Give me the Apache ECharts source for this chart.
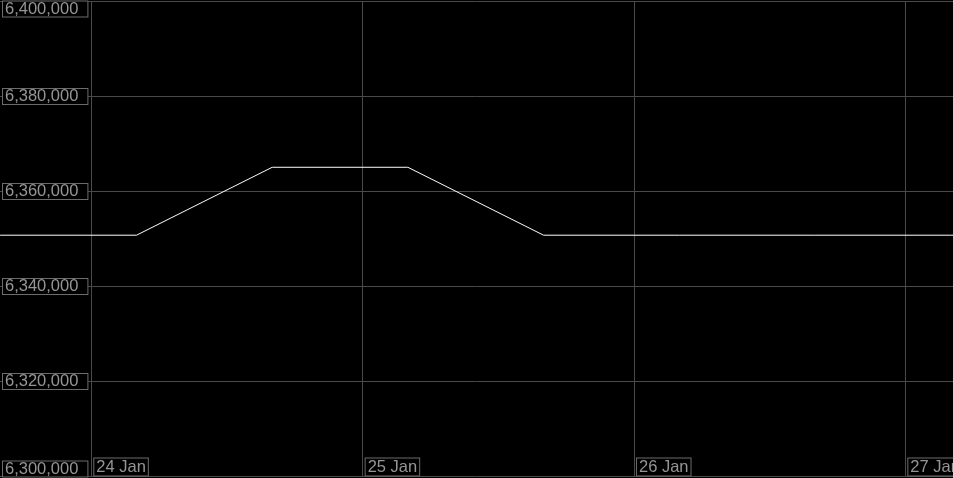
<!DOCTYPE html>
<html><head><meta charset="utf-8">
<script src="https://cdn.jsdelivr.net/npm/echarts@6/dist/echarts.min.js"></script>
<style>html,body{margin:0;padding:0;background:#000}#c{width:953px;height:478px}</style>
</head><body><div id="c"></div>
<script>
// Data (12-hour samples)
var times = [
  [2024,0,23,4],[2024,0,23,16],[2024,0,24,4],[2024,0,24,16],[2024,0,25,4],
  [2024,0,25,16],[2024,0,26,4],[2024,0,26,16],[2024,0,27,4],[2024,0,27,16]
];
var values = [6350800, 6350800, 6350800, 6365100, 6365100, 6350800, 6350800, 6350800, 6350800, 6350800];
var yTicks = [6300000, 6320000, 6340000, 6360000, 6380000, 6400000];
var monthNames = ['Jan','Feb','Mar','Apr','May','Jun','Jul','Aug','Sep','Oct','Nov','Dec'];

function t(a){ return new Date(a[0],a[1],a[2],a[3]).getTime(); }
var data = times.map(function(a,i){ return [t(a), values[i]]; });
var xMin = t([2024,0,24,0]) - 484.5*60000;
var xMax = t([2024,0,27,4]) + 13*60000;

var boxStyle = {color: '#959595', fontFamily: 'Liberation Sans, Arial', fontSize: 16.5, lineHeight: 15,
  backgroundColor: '#000', borderColor: '#6c6c6c', borderWidth: 1, padding: [0, 2, 0, 2]};

var chart = echarts.init(document.getElementById('c'));
chart.setOption({
  backgroundColor: '#000',
  animation: false,
  grid: {left: 0, right: 0, top: 1.5, bottom: 1.5, containLabel: false, outerBoundsMode: 'none'},
  xAxis: {
    type: 'time', min: xMin, max: xMax,
    minInterval: 86400000, maxInterval: 86400000,
    axisLine: {show: false}, axisTick: {show: false},
    splitLine: {show: true, showMinLine: false, showMaxLine: false, lineStyle: {color: '#4a4a4a', width: 1}},
    axisLabel: {
      inside: true, margin: 2, align: 'left', verticalAlign: 'bottom',
      formatter: function(v){ var d = new Date(v); return '{s|}{b|' + d.getDate() + ' ' + monthNames[d.getMonth()] + '}'; },
      rich: {s: {width: 3, height: 15}, b: boxStyle},
      showMinLabel: false, hideOverlap: false
    }
  },
  yAxis: {
    type: 'value', min: yTicks[0], max: yTicks[yTicks.length-1], interval: 20000,
    axisLine: {show: false}, axisTick: {show: false},
    splitLine: {show: true, lineStyle: {color: '#4a4a4a', width: 1}},
    axisLabel: {
      inside: true, margin: 3, align: 'left',
      verticalAlignMinLabel: 'bottom', verticalAlignMaxLabel: 'top',
      formatter: function(v){ return echarts.format.addCommas(v); },
      color: '#959595', fontFamily: 'Liberation Sans, Arial', fontSize: 16.5, lineHeight: 15,
      backgroundColor: '#000', borderColor: '#6c6c6c', borderWidth: 1, padding: [0, 9, 0, 2]
    }
  },
  series: [{
    type: 'line', data: data, showSymbol: false, symbol: 'none',
    lineStyle: {color: '#ffffff', width: 1}, clip: true, z: 1
  }]
});
</script></body></html>
